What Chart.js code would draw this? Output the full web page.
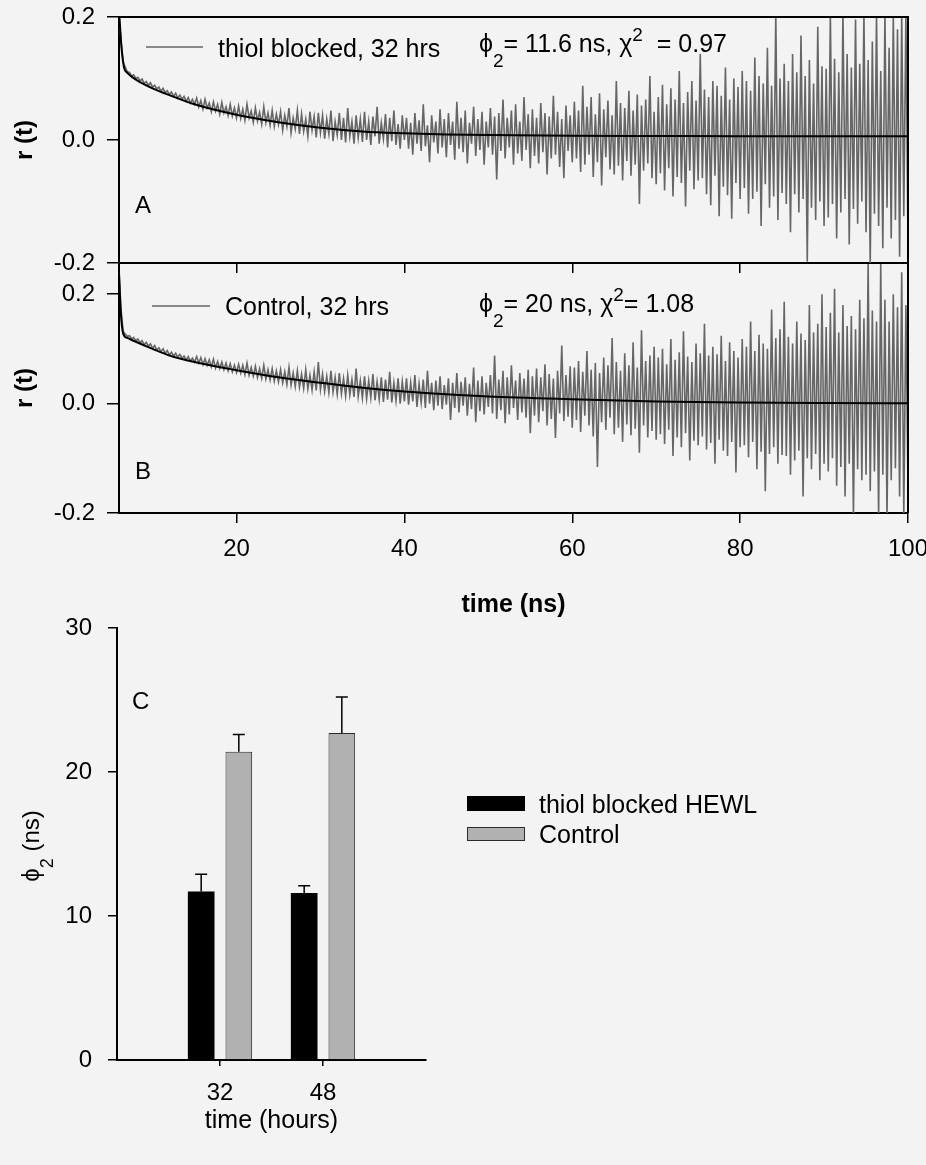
<!DOCTYPE html>
<html>
<head>
<meta charset="utf-8">
<title>Anisotropy decay and rotational correlation time</title>
<script src="https://cdn.jsdelivr.net/npm/chart.js@4.4.1/dist/chart.umd.min.js"></script>
<style>
  html, body { margin: 0; padding: 0; background: #f3f3f3; }
  #wrap { position: relative; width: 926px; height: 1165px; overflow: hidden; }
  canvas { position: absolute; left: 0; }
</style>
</head>
<body>
<div id="wrap">
  <canvas id="panelA" width="926" height="285" style="top:0px"></canvas>
  <canvas id="panelB" width="926" height="370" style="top:250px"></canvas>
  <canvas id="panelC" width="926" height="565" style="top:600px"></canvas>
</div>
<script>
// ---------- data ----------

// Panels A and B: anisotropy r(t), one sample every 0.25 ns from 6 ns, values x 1000
var decayStart = 6;
var decayStep = 0.25;

var thiolDecay = [
  // 6 - 15 ns
  200, 160, 127, 118, 111, 110, 104, 106, 100, 102, 96, 99, 92, 95, 89, 93, 86, 89, 83,
  86, 79, 84, 77, 80, 74, 78, 71, 76, 68, 73, 66, 71, 63, 69, 60, 66, 58,
  // 15 - 20
  68, 54, 64, 50, 66, 52, 60, 46, 62, 47, 58, 42, 61, 44, 54, 40, 58, 39, 52, 36,
  // 20 - 25
  55, 35, 50, 32, 58, 36, 47, 29, 52, 31, 45, 26, 54, 28, 44, 24, 48, 22, 42, 25,
  // 25 - 30
  46, 16, 40, 22, 52, 12, 36, 18, 48, 10, 42, 14, 34, 6, 46, 16, 38, 4, 44, 12,
  // 30 - 35
  40, 2, 34, 10, 48, -2, 30, 8, 44, 0, 36, -4, 52, 6, 30, -6, 40, 4, 34, -3,
  // 35 - 40
  46, 0, 30, -8, 38, 6, 54, -6, 28, 2, 42, -12, 36, -2, 48, -8, 26, -14, 40, 0,
  // 40 - 45
  36, -14, 28, -24, 44, -6, 32, -18, 58, -10, 24, -36, 40, -4, 30, -22, 50, -12, 34, -28,
  // 45 - 50
  44, -8, 30, -32, 62, -14, 36, -20, 48, -38, 28, -6, 54, -26, 34, -16, 46, -40, 30, -12,
  // 50 - 55
  52, -24, 38, -64, 44, -18, 66, -30, 36, -12, 48, -40, 58, -22, 30, -34, 70, -16, 42, -46,
  // 55 - 60
  50, -26, 36, -38, 60, -20, 44, -56, 38, -30, 72, -24, 46, -44, 34, -62, 56, -18, 40, -36,
  // 60 - 65
  62, -30, 48, -52, 88, -40, 54, -24, 70, -60, 42, -36, 76, -74, 50, -28, 64, -48, 40, -56,
  // 65 - 70
  96, -42, 60, -66, 52, -34, 80, -58, 48, -40, 74, -104, 56, -50, 66, -38, 104, -62, 46, -72,
  // 70 - 75
  70, -54, 90, -82, 58, -46, 84, -92, 66, -60, 112, -70, 60, -108, 78, -50, 96, -80, 64, -66,
  // 75 - 80
  140, -62, 82, -88, 70, -106, 96, -58, 88, -124, 72, -76, 118, -90, 66, -128, 100, -70, 86, -96,
  // 80 - 85
  112, -78, 96, -120, 80, -96, 134, -84, 104, -140, 92, -72, 150, -110, 88, -92, 205, -130, 100, -86,
  // 85 - 90
  124, -104, 96, -150, 140, -88, 110, -118, 170, -96, 104, -198, 130, -110, 92, -130, 184, -100, 120, -140,
  // 90 - 95
  116, -126, 205, -104, 132, -160, 110, -118, 205, -96, 140, -170, 118, -112, 196, -136, 124, -100, 205, -150,
  // 95 - 100
  130, -205, 160, -120, 205, -140, 112, -176, 205, -110, 150, -160, 205, -130, 180, -190, 205, -124, 205, -170
];

var controlDecay = [
  // 6 - 15 ns
  240, 170, 132, 127, 123, 124, 118, 121, 115, 118, 111, 115, 108, 112, 105, 109, 101, 106, 98,
  102, 95, 100, 92, 97, 89, 94, 87, 92, 85, 90, 83, 87, 80, 86, 78, 83, 76,
  // 15 - 20
  86, 74, 84, 71, 82, 70, 80, 67, 81, 65, 77, 64, 76, 62, 74, 60, 73, 58, 70, 57,
  // 20 - 25
  72, 56, 70, 53, 74, 52, 66, 50, 68, 48, 64, 46, 70, 45, 62, 43, 64, 41, 60, 40,
  // 25 - 30
  62, 38, 58, 35, 66, 34, 56, 31, 60, 30, 54, 28, 62, 27, 52, 25, 58, 24, 76, 26,
  // 30 - 35
  54, 22, 50, 20, 60, 21, 48, 17, 56, 18, 46, 14, 52, 16, 44, 12, 64, 13, 42, 10,
  // 35 - 40
  50, 9, 42, 11, 54, 6, 40, 8, 48, 3, 44, 7, 58, 2, 38, 5, 46, 0, 40, 4,
  // 40 - 45
  46, -2, 38, 4, 52, -6, 36, 2, 44, -8, 60, 0, 38, -12, 42, -4, 50, -10, 34, -2,
  // 45 - 50
  46, -30, 38, -8, 56, -16, 40, -4, 48, -22, 36, -10, 66, -34, 42, -14, 50, -20, 38, -6,
  // 50 - 55
  52, -18, 88, -28, 44, -12, 60, -36, 48, -20, 70, -8, 42, -30, 56, -16, 46, -26, 62, -54,
  // 55 - 60
  50, -22, 64, -34, 48, -14, 72, -40, 54, -28, 46, -63, 60, -18, 106, -32, 52, -24, 68, -44,
  // 60 - 65
  66, -30, 78, -52, 58, -22, 96, -40, 62, -60, 74, -116, 56, -34, 84, -48, 70, -26, 120, -56,
  // 65 - 70
  76, -44, 60, -70, 92, -38, 70, -58, 112, -46, 66, -90, 134, -40, 78, -62, 88, -50, 104, -66,
  // 70 - 75
  84, -56, 100, -74, 72, -48, 118, -96, 80, -62, 94, -80, 132, -54, 86, -104, 76, -68, 110, -76,
  // 75 - 80
  92, -60, 146, -84, 88, -72, 104, -110, 90, -66, 124, -86, 78, -96, 112, -70, 96, -126, 84, -80,
  // 80 - 85
  118, -76, 104, -98, 150, -70, 96, -120, 126, -88, 110, -160, 100, -92, 172, -80, 120, -110, 136, -94,
  // 85 - 90
  186, -96, 122, -130, 110, -104, 150, -86, 128, -170, 116, -100, 180, -120, 130, -92, 146, -140, 200, -110,
  // 90 - 95
  140, -124, 166, -100, 210, -150, 130, -116, 180, -170, 142, -110, 160, -205, 136, -120, 190, -140, 156, -130,
  // 95 - 100
  255, -160, 170, -124, 150, -205, 255, -130, 190, -205, 150, -140, 200, -118, 176, -170, 240, -205, 180, -150
];

// fitted curves (black lines), time in ns, r x 1000
var thiolFitTime = [6.05, 6.3, 6.6, 7, 7.5, 8.5, 10, 12, 15, 20, 25, 30, 35, 40, 45, 50, 60, 70, 80, 100];
var thiolFitR    = [200, 150, 118, 109, 103, 94, 84, 73, 58, 41, 29, 20, 14, 11, 9, 8, 7, 6.5, 6, 6];
var controlFitTime = [6.0, 6.2, 6.5, 7, 8, 10, 12, 15, 20, 25, 30, 35, 40, 45, 50, 60, 70, 80, 90, 100];
var controlFitR    = [240, 170, 128, 120, 113, 100, 88, 76, 61, 48, 38, 29, 22, 17, 13, 8, 4, 2, 1, 0.5];

var timeTicks = [20, 40, 60, 80, 100];
var rTicks = [-0.2, 0.0, 0.2];

// Panel C: rotational correlation time phi2 (ns)
var hours = ['32', '48'];
var thiolPhi = [11.7, 11.6];
var thiolErr = [1.2, 0.5];
var controlPhi = [21.4, 22.7];
var controlErr = [1.2, 2.5];
var phiTicks = [0, 10, 20, 30];

// ---------- drawing ----------

var FONT = '"Liberation Sans", Arial, Helvetica, sans-serif';
Chart.defaults.font.family = FONT;
Chart.defaults.color = '#000';

// text with sub (1) / superscript (2) parts
function richWidth(ctx, parts, size) {
  var w = 0;
  parts.forEach(function (p) {
    ctx.font = (p[1] ? Math.round(size * 0.75) : size) + 'px ' + FONT;
    w += ctx.measureText(p[0]).width;
  });
  return w;
}
function drawRich(ctx, x, y, parts, size) {
  ctx.textAlign = 'left';
  ctx.textBaseline = 'alphabetic';
  parts.forEach(function (p) {
    ctx.font = (p[1] ? Math.round(size * 0.75) : size) + 'px ' + FONT;
    var dy = p[1] === 1 ? size * 0.6 : (p[1] === 2 ? -size * 0.45 : 0);
    ctx.fillText(p[0], x, y + dy);
    x += ctx.measureText(p[0]).width;
  });
}

function decayPoints(values) {
  return values.map(function (v, i) {
    return { x: decayStart + i * decayStep, y: v / 1000 };
  });
}
function fitPoints(t, r) {
  return t.map(function (x, i) { return { x: x, y: r[i] / 1000 }; });
}

function noPad(s) {
  s.paddingLeft = 0; s.paddingRight = 0; s.paddingTop = 0; s.paddingBottom = 0;
}

function timeAxis(showLabels) {
  return {
    type: 'linear', min: 6, max: 100,
    afterBuildTicks: function (s) {
      s.ticks = timeTicks.map(function (v) { return { value: v }; });
    },
    afterFit: function (s) { s.height = showLabels ? 107 : 22; noPad(s); },
    grid: { drawOnChartArea: false, color: '#000', lineWidth: 1.5, tickLength: 10 },
    border: { color: '#000', width: 2 },
    ticks: { display: showLabels, padding: 12, font: { size: 24 }, maxRotation: 0, autoSkip: false,
      callback: function (v) { return String(v); } },
    title: { display: showLabels, text: 'time (ns)', font: { size: 25, weight: 'bold' },
      padding: { top: 0, bottom: 0 } }
  };
}

function rAxis(max) {
  return {
    type: 'linear', min: -0.2, max: max,
    afterBuildTicks: function (s) {
      s.ticks = rTicks.map(function (v) { return { value: v }; });
    },
    afterFit: function (s) { s.width = 119; noPad(s); },
    grid: { drawOnChartArea: false, color: '#000', lineWidth: 1.5, tickLength: 12 },
    border: { color: '#000', width: 2 },
    ticks: { padding: 12, font: { size: 24 }, callback: function (v) { return v.toFixed(1); } },
    title: { display: true, text: 'r (t)', font: { size: 24, weight: 'bold' }, padding: { top: 11, bottom: 0 } }
  };
}

function panelDecor(p) {
  return {
    id: 'panelDecor',
    afterDraw: function (chart) {
      var ctx = chart.ctx, a = chart.chartArea;
      var ds = chart.data.datasets[1];
      ctx.save();
      // frame on the right (and on top for panel A)
      ctx.strokeStyle = '#000';
      ctx.lineWidth = 2;
      ctx.beginPath();
      if (p.top) {
        ctx.moveTo(a.left, a.top);
        ctx.lineTo(a.right, a.top);
      } else {
        ctx.moveTo(a.right, a.top);
      }
      ctx.lineTo(a.right, a.bottom);
      ctx.stroke();
      // legend sample
      ctx.strokeStyle = ds.borderColor;
      ctx.lineWidth = 1.3;
      ctx.beginPath();
      ctx.moveTo(p.key[0], p.key[2]);
      ctx.lineTo(p.key[1], p.key[2]);
      ctx.stroke();
      ctx.fillStyle = '#000';
      ctx.font = '25px ' + FONT;
      ctx.textAlign = 'left';
      ctx.textBaseline = 'alphabetic';
      ctx.fillText(ds.label, p.keyText[0], p.keyText[1]);
      ctx.font = '24px ' + FONT;
      ctx.fillText(p.letter, p.letterPos[0], p.letterPos[1]);
      drawRich(ctx, p.statsPos[0], p.statsPos[1], p.stats, 25);
      ctx.restore();
    }
  };
}

function decayChart(id, label, values, fitT, fitR, yMax, padTop, showX, decor) {
  return new Chart(document.getElementById(id), {
    type: 'line',
    data: {
      datasets: [
        { label: 'fit', data: fitPoints(fitT, fitR), borderColor: '#000', borderWidth: 2,
          pointRadius: 0, cubicInterpolationMode: 'monotone', order: 0 },
        { label: label, data: decayPoints(values), borderColor: '#666666', borderWidth: 1.6,
          pointRadius: 0, order: 1 }
      ]
    },
    options: {
      responsive: false,
      animation: false,
      layout: { padding: { top: padTop, right: 18, left: 0, bottom: 0 } },
      scales: { x: timeAxis(showX), y: rAxis(yMax) },
      plugins: { legend: { display: false }, tooltip: { enabled: false } }
    },
    plugins: [panelDecor(decor)]
  });
}

// Panel A
decayChart('panelA', 'thiol blocked, 32 hrs', thiolDecay, thiolFitTime, thiolFitR, 0.2, 17, false, {
  top: true,
  key: [146, 203, 47], keyText: [218, 57],
  letter: 'A', letterPos: [135, 213],
  statsPos: [479, 52],
  stats: [['\u03D5', 0], ['2', 1], ['= 11.6 ns, ', 0], ['\u03C7', 0], ['2', 2], ['  = 0.97', 0]]
});

// Panel B (canvas starts at y = 250)
decayChart('panelB', 'Control, 32 hrs', controlDecay, controlFitTime, controlFitR, 0.257, 13, true, {
  top: false,
  key: [152, 210, 56], keyText: [225, 65],
  letter: 'B', letterPos: [135, 229],
  statsPos: [479, 62],
  stats: [['\u03D5', 0], ['2', 1], ['= 20 ns, ', 0], ['\u03C7', 0], ['2', 2], ['= 1.08', 0]]
});

// Panel C: bars with upper error bars
function padEnds(arr) { return [null].concat(arr, [null]); }

var errorBars = {
  id: 'errorBars',
  afterDatasetsDraw: function (chart) {
    var ctx = chart.ctx, y = chart.scales.y;
    ctx.save();
    ctx.strokeStyle = '#000';
    ctx.lineWidth = 1.5;
    chart.data.datasets.forEach(function (ds, d) {
      chart.getDatasetMeta(d).data.forEach(function (bar, i) {
        var v = ds.data[i];
        if (v === null) return;
        var top = y.getPixelForValue(v + ds.errors[i]);
        ctx.beginPath();
        ctx.moveTo(bar.x, bar.y);
        ctx.lineTo(bar.x, top);
        ctx.moveTo(bar.x - 6, top);
        ctx.lineTo(bar.x + 6, top);
        ctx.stroke();
      });
    });
    ctx.restore();
  }
};

var cDecor = {
  id: 'cDecor',
  afterDraw: function (chart) {
    var ctx = chart.ctx;
    ctx.save();
    ctx.fillStyle = '#000';
    ctx.font = '24px ' + FONT;
    ctx.textAlign = 'left';
    ctx.textBaseline = 'alphabetic';
    ctx.fillText('C', 132, 109);
    // y title
    var title = [['\u03D5', 0], ['2', 1], [' (ns)', 0]];
    ctx.save();
    ctx.translate(31, 246);
    ctx.rotate(-Math.PI / 2);
    var w = richWidth(ctx, title, 24);
    drawRich(ctx, -w / 2, 8, title, 24);
    ctx.restore();
    // legend
    var rows = [[196, 15, 213], [227, 14, 243]];
    chart.data.datasets.forEach(function (ds, d) {
      var r = rows[d];
      ctx.fillStyle = ds.backgroundColor;
      ctx.fillRect(467, r[0], 58, r[1]);
      if (ds.borderWidth) {
        ctx.strokeStyle = ds.borderColor;
        ctx.lineWidth = 1;
        ctx.strokeRect(467.5, r[0] + 0.5, 57, r[1] - 1);
      }
      ctx.fillStyle = '#000';
      ctx.font = '25px ' + FONT;
      ctx.fillText(ds.label, 539, r[2]);
    });
    ctx.restore();
  }
};

new Chart(document.getElementById('panelC'), {
  type: 'bar',
  data: {
    labels: [''].concat(hours, ['']),
    datasets: [
      { label: 'thiol blocked HEWL', data: padEnds(thiolPhi), errors: padEnds(thiolErr),
        backgroundColor: '#000000', borderWidth: 0,
        categoryPercentage: 0.731, barPercentage: 0.708 },
      { label: 'Control', data: padEnds(controlPhi), errors: padEnds(controlErr),
        backgroundColor: '#b1b1b1', borderColor: '#2a2a2a', borderWidth: 1,
        categoryPercentage: 0.731, barPercentage: 0.708 }
    ]
  },
  options: {
    responsive: false,
    animation: false,
    layout: { padding: { top: 28, right: 500, left: 0, bottom: 0 } },
    scales: {
      x: {
        offset: false,
        afterFit: function (s) { s.height = 105; noPad(s); },
        grid: { offset: false, drawOnChartArea: false, lineWidth: 1.5, tickLength: 6,
          color: function (c) { return c.tick && c.tick.label ? '#000' : 'rgba(0,0,0,0)'; } },
        border: { color: '#000', width: 2 },
        ticks: { padding: 13, font: { size: 24 }, maxRotation: 0, autoSkip: false },
        title: { display: true, text: 'time (hours)', font: { size: 25 }, padding: { top: 0, bottom: 29 } }
      },
      y: {
        min: 0, max: 30,
        afterBuildTicks: function (s) {
          s.ticks = phiTicks.map(function (v) { return { value: v }; });
        },
        afterFit: function (s) { s.width = 117; noPad(s); },
        grid: { drawOnChartArea: false, color: '#000', lineWidth: 1.5, tickLength: 9 },
        border: { color: '#000', width: 2 },
        ticks: { padding: 16, font: { size: 24 } }
      }
    },
    plugins: { legend: { display: false }, tooltip: { enabled: false } }
  },
  plugins: [errorBars, cDecor]
});
</script>
</body>
</html>
